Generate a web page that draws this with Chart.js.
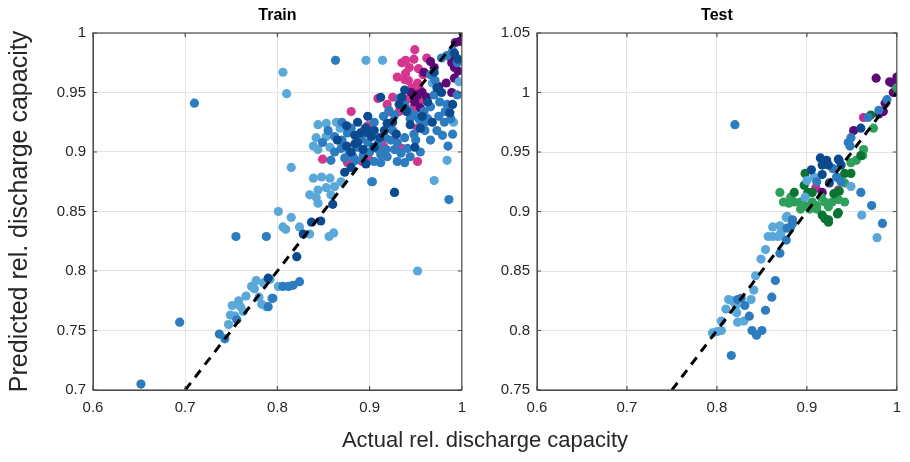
<!DOCTYPE html>
<html>
<head>
<meta charset="utf-8">
<script src="https://cdn.jsdelivr.net/npm/chart.js@4"></script>
<style>
body { margin: 0; background: #fff; width: 910px; height: 462px; overflow: hidden; position: relative; font-family: "Liberation Sans", Arial, sans-serif; }
#c1 { position: absolute; left: 0; top: 0; }
#c2 { position: absolute; left: 475px; top: 0; }
#xlabel { position: absolute; left: 0; width: 970px; top: 427px; text-align: center; font-size: 22px; color: #262626; }
</style>
</head>
<body>
<canvas id="c1" width="475" height="462"></canvas>
<canvas id="c2" width="435" height="462"></canvas>
<div id="xlabel">Actual rel. discharge capacity</div>
<script>
// tick labels
var xTicks = [0.6, 0.7, 0.8, 0.9, 1];
var trainYTicks = [0.7, 0.75, 0.8, 0.85, 0.9, 0.95, 1];
var testYTicks = [0.75, 0.8, 0.85, 0.9, 0.95, 1, 1.05];

// identity line ends
var trainDiag = [0.7, 1];
var testDiag = [0.75, 1];

// train points [actual, predicted]
var trainLight = [[0.777,0.792],[0.772,0.787],[0.792,0.793],[0.785,0.790],[0.766,0.779],[0.780,0.778],[0.794,0.777],
  [0.783,0.772],[0.788,0.770],[0.751,0.771],[0.760,0.770],[0.763,0.766],[0.749,0.763],[0.754,0.762],[0.747,0.755],
  [0.801,0.787],[0.775,0.785],[0.758,0.775],[0.801,0.850],[0.815,0.845],[0.806,0.837],[0.809,0.835],[0.824,0.837],
  [0.835,0.831],[0.856,0.829],[0.861,0.832],[0.844,0.857],[0.839,0.878],[0.848,0.879],[0.857,0.878],[0.844,0.868],
  [0.853,0.870],[0.862,0.871],[0.835,0.864],[0.858,0.864],[0.869,0.875],[0.842,0.862],[0.844,0.923],[0.853,0.924],
  [0.842,0.912],[0.839,0.905],[0.844,0.902],[0.857,0.904],[0.868,0.920],[0.806,0.967],[0.810,0.949],[0.896,0.977],
  [0.914,0.977],[0.815,0.887],[0.902,0.875],[0.970,0.876],[0.952,0.800],[0.991,0.925],[0.997,0.959],[0.968,0.958],
  [0.984,0.893],[0.927,0.866],[0.853,0.913],[0.864,0.925]];
var trainMid = [[0.652,0.705],[0.710,0.941],[0.694,0.757],[0.755,0.829],[0.788,0.829],[0.863,0.977],[0.756,0.759],
  [0.737,0.747],[0.743,0.743],[0.806,0.787],[0.812,0.787],[0.817,0.788],[0.824,0.791],[0.795,0.777],[0.790,0.770],
  [0.849,0.908],[0.862,0.900],[0.869,0.903],[0.876,0.916],[0.858,0.893],[0.885,0.893],[0.905,0.892],[0.887,0.904],
  [0.878,0.900],[0.898,0.908],[0.923,0.910],[0.930,0.908],[0.938,0.912],[0.960,0.918],[0.966,0.910],[0.973,0.918],
  [0.981,0.925],[0.979,0.914],[0.927,0.902],[0.934,0.899],[0.941,0.903],[0.944,0.896],[0.930,0.892],[0.938,0.891],
  [0.919,0.896],[0.912,0.891],[0.912,0.898],[0.903,0.875],[0.873,0.895],[0.895,0.920],[0.905,0.925],[0.915,0.930],
  [0.927,0.931],[0.949,0.931],[0.959,0.934],[0.966,0.938],[0.976,0.942],[0.982,0.934],[0.944,0.928],[0.954,0.927],
  [0.938,0.940],[0.970,0.948],[0.984,0.940],[0.995,0.948],[0.966,0.965],[0.971,0.960],[0.978,0.979],[0.984,0.981],
  [0.990,0.985],[0.995,0.975],[0.921,0.935],[0.932,0.945],[0.960,0.925],[0.975,0.930],[0.988,0.928],[0.985,0.905],
  [0.990,0.915],[0.955,0.900],[0.948,0.915],[0.925,0.918],[0.917,0.912],[0.870,0.910],[0.880,0.920],[0.893,0.897],
  [0.900,0.900],[0.908,0.903],[0.986,0.860],[0.862,0.913],[0.855,0.918],[0.870,0.925],[0.891,0.911],[0.909,0.907],
  [0.950,0.910],[0.963,0.928],[0.942,0.935],[0.918,0.902],[0.882,0.896]];
var trainDark = [[0.837,0.841],[0.847,0.842],[0.828,0.831],[0.860,0.856],[0.821,0.812],[0.790,0.794],[0.873,0.883],
  [0.884,0.914],[0.890,0.916],[0.898,0.916],[0.887,0.908],[0.880,0.900],[0.893,0.902],[0.905,0.904],[0.911,0.912],
  [0.916,0.918],[0.919,0.924],[0.905,0.918],[0.944,0.923],[0.949,0.904],[0.987,0.933],[0.927,0.866],[0.938,0.952],
  [0.935,0.946],[0.932,0.940],[0.912,0.946],[0.940,0.934],[0.970,0.967],[0.973,0.954],[0.992,0.983],[0.996,0.978],
  [0.957,0.930],[0.963,0.942],[0.978,0.950],[0.990,0.940],[0.880,0.887],[0.896,0.890],[0.925,0.925],[0.898,0.930],
  [0.865,0.910],[0.875,0.905],[0.884,0.907],[0.902,0.913],[0.896,0.920],[0.887,0.925],[0.875,0.922],[0.929,0.915],
  [0.955,0.920],[0.968,0.925]];
var trainPink = [[0.949,0.986],[0.939,0.977],[0.948,0.978],[0.935,0.975],[0.943,0.971],[0.962,0.979],[0.939,0.966],
  [0.938,0.961],[0.953,0.970],[0.952,0.958],[0.946,0.954],[0.955,0.952],[0.944,0.945],[0.954,0.942],[0.948,0.938],
  [0.939,0.944],[0.909,0.945],[0.925,0.946],[0.919,0.940],[0.880,0.934],[0.932,0.934],[0.921,0.934],[0.849,0.894],
  [0.876,0.891],[0.892,0.892],[0.900,0.893],[0.952,0.892],[0.952,0.920],[0.898,0.922],[0.930,0.963],[0.942,0.960],
  [0.958,0.965],[0.960,0.944],[0.915,0.905],[0.935,0.903],[0.948,0.948]];
var trainPurple = [[0.966,0.976],[0.970,0.971],[0.957,0.950],[0.952,0.948],[0.962,0.946],[0.949,0.942],[0.955,0.937],
  [0.987,0.980],[0.992,0.971],[0.992,0.962],[0.989,0.950],[0.998,0.993],[0.993,0.992],[1.0,0.994],[0.989,0.975],
  [0.996,0.968],[0.959,0.967],[0.945,0.950],[0.975,0.955],[0.983,0.958]];

// test points [actual, predicted]
var testLight = [[0.795,0.798],[0.800,0.799],[0.805,0.800],[0.805,0.808],[0.810,0.818],[0.813,0.826],[0.817,0.825],
  [0.822,0.815],[0.823,0.807],[0.830,0.808],[0.821,0.821],[0.838,0.826],[0.841,0.834],[0.843,0.846],[0.849,0.860],
  [0.854,0.868],[0.857,0.879],[0.862,0.879],[0.868,0.879],[0.871,0.882],[0.878,0.896],[0.961,0.897],[0.978,0.878],
  [0.908,0.929],[0.900,0.926],[0.898,0.912],[0.949,0.921],[0.877,0.895],[0.870,0.888],[0.862,0.887]];
var testMid = [[0.820,0.973],[0.816,0.779],[0.823,0.826],[0.827,0.827],[0.831,0.821],[0.836,0.812],[0.839,0.800],
  [0.844,0.796],[0.850,0.800],[0.854,0.817],[0.861,0.828],[0.865,0.842],[0.870,0.865],[0.877,0.876],[0.878,0.886],
  [0.882,0.887],[0.884,0.890],[0.972,0.905],[0.984,0.890],[0.960,0.916],[0.911,0.925],[0.933,0.929],[0.938,0.925],
  [0.884,0.893],[0.989,0.994],[0.980,0.985],[0.968,0.979],[0.949,0.962],[0.946,0.958],[0.948,0.955],[0.936,0.943],
  [0.929,0.936]];
var testDark = [[0.915,0.945],[0.922,0.943],[0.917,0.939],[0.924,0.939],[0.935,0.944],[0.938,0.939],[0.960,0.970],
  [0.925,0.924],[0.917,0.931],[0.905,0.935]];
var testGreen = [[0.870,0.916],[0.886,0.908],[0.874,0.908],[0.880,0.907],[0.893,0.908],[0.898,0.905],[0.906,0.908],
  [0.911,0.905],[0.920,0.908],[0.928,0.908],[0.935,0.910],[0.942,0.908],[0.911,0.902],[0.924,0.904],[0.893,0.902],
  [0.903,0.902],[0.942,0.924],[0.935,0.928],[0.949,0.941],[0.955,0.943],[1.0,1.004],[0.974,0.970],[0.963,0.952],
  [0.962,0.947],[0.882,0.912],[0.916,0.912]];
var testDarkGreen = [[0.886,0.916],[0.897,0.922],[0.901,0.916],[0.906,0.916],[0.917,0.897],[0.924,0.893],[0.935,0.899],
  [0.934,0.898],[0.924,0.891],[0.920,0.894],[0.898,0.932],[0.942,0.932],[0.949,0.932],[0.936,0.917],[0.960,0.947],
  [0.971,0.981],[0.930,0.915]];
var testPurple = [[0.977,1.012],[0.992,1.009],[1.0,1.013],[0.996,1.000],[0.987,0.991],[0.985,0.984],[0.980,0.982],
  [0.952,0.968],[0.917,0.916],[0.995,1.008]];
var testPink = [[0.963,0.979],[0.935,0.918],[0.910,0.920]];

var FONT = '"Liberation Sans", Arial, sans-serif';

function scatterSet(pts, color) {
  return {
    type: 'scatter',
    data: pts.map(function (p) { return { x: p[0], y: p[1] }; }),
    backgroundColor: color,
    borderWidth: 0,
    pointRadius: 4.6,
    pointHoverRadius: 4.6,
    order: 1
  };
}

function diagSet(ends) {
  return {
    type: 'line',
    data: ends.map(function (v) { return { x: v, y: v }; }),
    borderColor: '#000',
    borderWidth: 3,
    borderDash: [9, 7],
    pointRadius: 0,
    fill: false,
    order: 0
  };
}

// MATLAB style box with inward ticks
var boxPlugin = {
  id: 'box',
  afterDraw: function (chart) {
    var a = chart.chartArea, ctx = chart.ctx;
    var sx = chart.scales.x, sy = chart.scales.y;
    ctx.save();
    ctx.strokeStyle = '#4d4d4d';
    ctx.lineWidth = 1.2;
    ctx.strokeRect(a.left, a.top, a.right - a.left, a.bottom - a.top);
    ctx.beginPath();
    sx.ticks.forEach(function (t) {
      var px = sx.getPixelForValue(t.value);
      ctx.moveTo(px, a.bottom); ctx.lineTo(px, a.bottom - 4);
      ctx.moveTo(px, a.top); ctx.lineTo(px, a.top + 4);
    });
    sy.ticks.forEach(function (t) {
      var py = sy.getPixelForValue(t.value);
      ctx.moveTo(a.left, py); ctx.lineTo(a.left + 4, py);
      ctx.moveTo(a.right, py); ctx.lineTo(a.right - 4, py);
    });
    ctx.stroke();
    ctx.restore();
  }
};

function makeChart(id, title, sets, yTicks, yMin, yMax, yWidth, padLeft, padRight, yTitle) {
  return new Chart(document.getElementById(id), {
    data: { datasets: sets },
    options: {
      responsive: false,
      animation: false,
      devicePixelRatio: 1,
      layout: { padding: { left: padLeft, right: padRight, top: 0, bottom: 0 } },
      plugins: {
        legend: { display: false },
        tooltip: { enabled: false },
        title: {
          display: true, text: title, fullSize: false,
          font: { family: FONT, size: 16, weight: 'bold' }, color: '#000',
          padding: { top: 6, bottom: 7.8 }
        }
      },
      scales: {
        x: {
          type: 'linear', min: 0.6, max: 1,
          afterBuildTicks: function (s) { s.ticks = xTicks.map(function (v) { return { value: v }; }); },
          afterFit: function (s) { s.height = 72; },
          ticks: { callback: function (v) { return String(v); }, font: { family: FONT, size: 15 }, color: '#262626', padding: 9, maxRotation: 0, autoSkip: false },
          grid: { color: '#e3e3e3', drawTicks: false },
          border: { color: '#4d4d4d' }
        },
        y: {
          type: 'linear', min: yMin, max: yMax,
          afterBuildTicks: function (s) { s.ticks = yTicks.map(function (v) { return { value: v }; }); },
          afterFit: function (s) { s.width = yWidth; },
          ticks: { callback: function (v) { return String(v); }, font: { family: FONT, size: 15 }, color: '#262626', padding: 7, autoSkip: false },
          grid: { color: '#e3e3e3', drawTicks: false },
          border: { color: '#4d4d4d' },
          title: { display: !!yTitle, text: yTitle || '', font: { family: FONT, size: 25 }, color: '#262626', padding: { top: 0, bottom: 0 } }
        }
      }
    },
    plugins: [boxPlugin]
  });
}

makeChart('c1', 'Train', [
  diagSet(trainDiag),
  scatterSet(trainDark, '#0b4a8e'),
  scatterSet(trainMid, '#2d7cbf'),
  scatterSet(trainLight, '#5aa7d9'),
  scatterSet(trainPurple, '#5b0b77'),
  scatterSet(trainPink, '#d6358f')
], trainYTicks, 0.7, 1, 88, 5, 10, 'Predicted rel. discharge capacity');

makeChart('c2', 'Test', [
  diagSet(testDiag),
  scatterSet(testDark, '#0b4a8e'),
  scatterSet(testMid, '#2d7cbf'),
  scatterSet(testLight, '#5aa7d9'),
  scatterSet(testDarkGreen, '#0a7432'),
  scatterSet(testGreen, '#2fa05a'),
  scatterSet(testPurple, '#5b0b77'),
  scatterSet(testPink, '#c42a8f')
], testYTicks, 0.75, 1.05, 62, 0, 3, '');
</script>
</body>
</html>
